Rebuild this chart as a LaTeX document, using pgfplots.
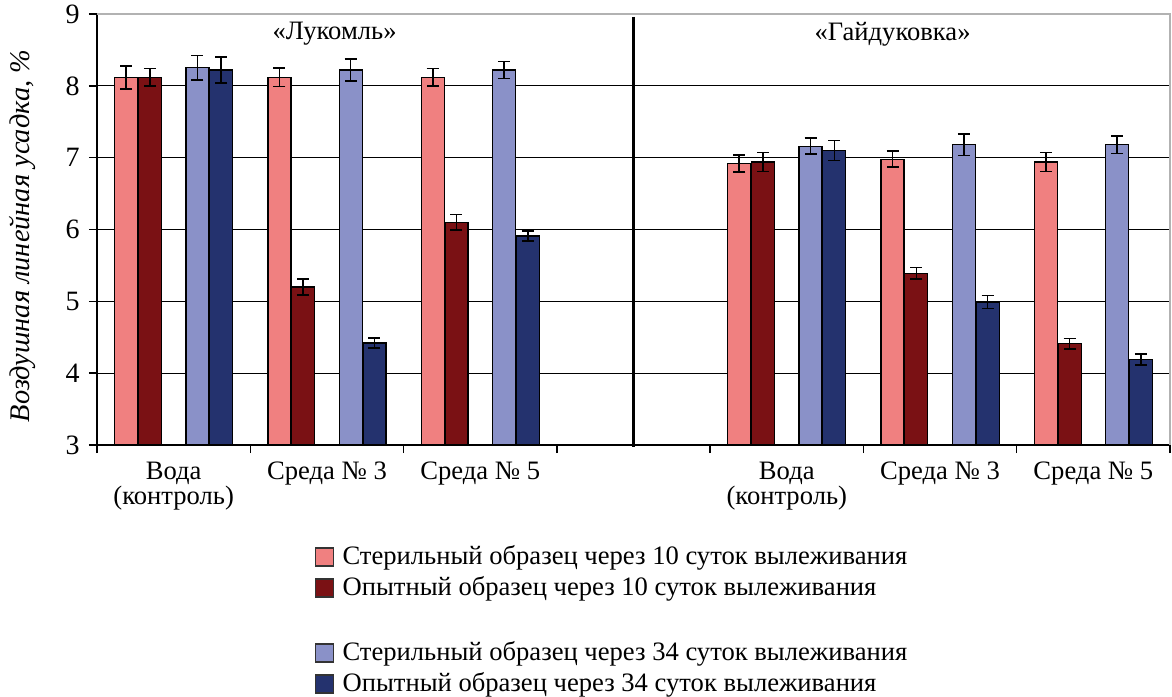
\documentclass[border=0pt]{standalone}
\usepackage{fontspec}
\setmainfont{Liberation Serif}
\usepackage{pgfplots}
\pgfplotsset{compat=1.18}
\usepackage{pgfplotstable}

\definecolor{cA}{RGB}{240,128,128}
\definecolor{cB}{RGB}{122,17,20}
\definecolor{cC}{RGB}{138,145,200}
\definecolor{cD}{RGB}{36,50,110}

% Стерильный 10 сут
\pgfplotstableread{
x y e
0 8.12 0.16
1 8.12 0.13
2 8.12 0.12
4 6.92 0.12
5 6.98 0.11
6 6.94 0.13
}\dataA
% Опытный 10 сут
\pgfplotstableread{
x y e
0 8.12 0.12
1 5.20 0.11
2 6.10 0.11
4 6.94 0.13
5 5.39 0.08
6 4.41 0.07
}\dataB
% Стерильный 34 сут
\pgfplotstableread{
x y e
0 8.25 0.17
1 8.22 0.15
2 8.22 0.12
4 7.16 0.11
5 7.18 0.15
6 7.18 0.12
}\dataC
% Опытный 34 сут
\pgfplotstableread{
x y e
0 8.22 0.18
1 4.42 0.07
2 5.91 0.07
4 7.10 0.14
5 4.99 0.09
6 4.19 0.08
}\dataD

\pgfplotsset{
  sq legend/.style={legend image code/.code={\path[draw=none,fill=none] (0pt,0pt) -- (11.5pt,0pt);\draw[black!80,line width=0.8pt,fill=#1] (0pt,-4.5pt) rectangle (9pt,4.5pt);}},
  barstyle/.style={draw=black, line width=0.6pt, fill=#1, sq legend=#1,
    error bars/y dir=both, error bars/y explicit,
    error bars/error bar style={black, line width=0.8pt},
    error bars/error mark options={rotate=90, mark size=3pt, black, line width=0.8pt}},
}

\begin{document}
\fontsize{13.3}{15}\selectfont
\begin{tikzpicture}
\begin{axis}[name=ax,
  scale only axis, width=536.5pt, height=215.5pt,
  xmin=-0.5, xmax=6.5, ymin=3, ymax=9,
  ybar, bar width=0.15,
  axis lines*=left, axis line style={-, line width=0.7pt},
  ytick={3,...,9}, ymajorgrids, grid style={black, line width=0.6pt},
  xtick={0,...,6},
  xticklabels={{Вода\\(контроль)},{Среда № 3},{Среда № 5},{},{Вода\\(контроль)},{Среда № 3},{Среда № 5}},
  xticklabel style={align=center, font=\fontsize{13.3}{12.5}\selectfont},
  yticklabel style={font=\fontsize{14}{15}\selectfont},
  major x tick style={draw=none},
  minor xtick={-0.5,0.5,...,6.5},
  minor tick length=4pt, major tick length=4pt,
  tick align=outside, tick style={black, line width=0.7pt},
  /pgf/number format/assume math mode=true,
  every axis y label/.style={at={(axis description cs:-0.0699,0.485)}, anchor=center, rotate=90, font=\fontsize{14.2}{15}\selectfont\itshape},
  ylabel={Воздушная линейная усадка, \%},
  legend style={at={(axis description cs:0.197,-0.213)}, anchor=north west, draw=none, fill=none, row sep=0pt},
  legend cell align=left,
  clip=false,
]
\addplot[barstyle=cA, bar shift=-0.31] table[x=x, y=y, y error=e] {\dataA};
\addlegendentry{Стерильный образец через 10 суток вылеживания}
\addplot[barstyle=cB, bar shift=-0.155] table[x=x, y=y, y error=e] {\dataB};
\addlegendentry{Опытный образец через 10 суток вылеживания}
\addlegendimage{empty legend}
\addlegendentry{\rule{0pt}{11pt}}
\addplot[barstyle=cC, bar shift=0.155] table[x=x, y=y, y error=e] {\dataC};
\addlegendentry{Стерильный образец через 34 суток вылеживания}
\addplot[barstyle=cD, bar shift=0.31] table[x=x, y=y, y error=e] {\dataD};
\addlegendentry{Опытный образец через 34 суток вылеживания}
\draw[gray!60, line width=0.6pt] (rel axis cs:0,1) -- (rel axis cs:1,1) -- (rel axis cs:1,0);
\draw[black, line width=1.4pt] (axis cs:3,8.96) -- (axis cs:3,2.97);
\node at (axis cs:1.05,8.72) {«Лукомль»};
\node at (axis cs:4.69,8.72) {«Гайдуковка»};
\end{axis}
\path (ax.south west) ++(-48.5pt,-125.5pt) coordinate (bl);
\path (ax.north east) ++(1pt,7pt) coordinate (tr);
\pgfresetboundingbox
\path[use as bounding box] (bl) rectangle (tr);
\end{tikzpicture}
\end{document}
